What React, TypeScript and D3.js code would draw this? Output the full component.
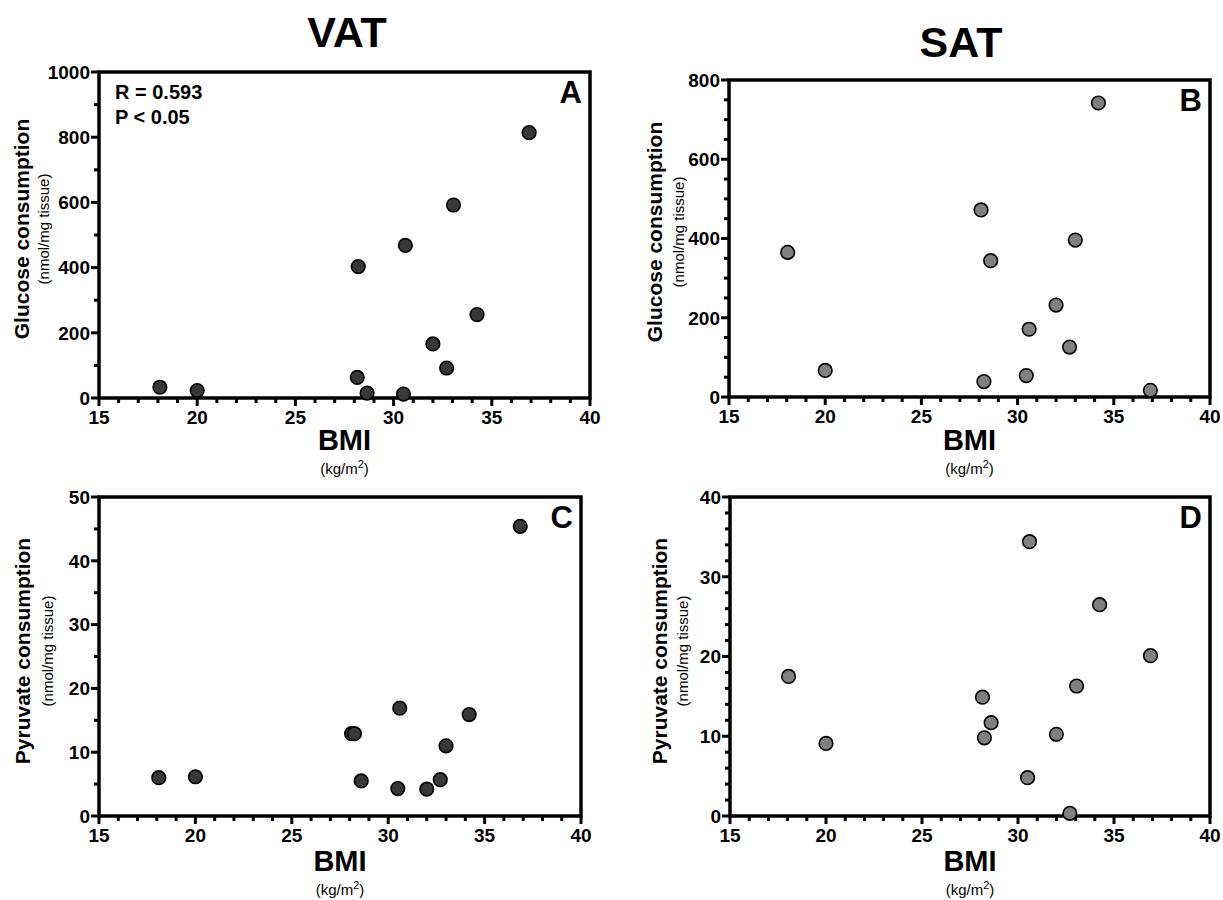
import React from "react";
import * as d3 from "d3";

// BMI (kg/m2) and consumption values
const vatGlucoseBmi = [18.1, 20.0, 28.2, 28.15, 28.65, 30.6, 30.5, 32.0, 32.7, 33.05, 34.25, 36.9];
const vatGlucose = [33, 23, 403, 63, 15, 468, 12, 166, 92, 592, 256, 814];

const satGlucoseBmi = [18.05, 20.0, 28.1, 28.25, 28.6, 30.45, 30.6, 32.0, 32.7, 33.0, 34.2, 36.9];
const satGlucose = [365, 67, 472, 39, 344, 54, 171, 232, 126, 396, 742, 17];

const vatPyruvateBmi = [18.1, 20.0, 28.1, 28.25, 28.6, 30.5, 30.6, 32.0, 32.7, 33.0, 34.2, 36.85];
const vatPyruvate = [6.0, 6.15, 12.9, 12.9, 5.5, 4.3, 16.9, 4.2, 5.7, 11.0, 15.9, 45.4];

const satPyruvateBmi = [18.05, 20.0, 28.15, 28.25, 28.6, 30.5, 30.6, 32.0, 32.7, 33.05, 34.25, 36.9];
const satPyruvate = [17.5, 9.1, 14.9, 9.8, 11.7, 4.8, 34.4, 10.25, 0.33, 16.3, 26.5, 20.1];

const xTicks = [15, 20, 25, 30, 35, 40];
const columnTitles = ["VAT", "SAT"];

const FONT = "'Liberation Sans', Arial, Helvetica, sans-serif";

type PanelProps = {
  box: { left: number; right: number; top: number; bottom: number };
  xs: number[];
  ys: number[];
  yMax: number;
  yMajor: number;
  yMinor: number;
  letter: string;
  fill: string;
  title: string;
  labelX: number;
  subX: number;
  labelY: number;
  bmiY: number;
  kgY: number;
  stats?: string[];
};

const Panel = (p: PanelProps) => {
  const { box } = p;
  const x = d3.scaleLinear().domain([15, 40]).range([box.left, box.right]);
  const y = d3.scaleLinear().domain([0, p.yMax]).range([box.bottom, box.top]);
  const xMinor = d3.range(15, 40.001, 1).filter((v) => !xTicks.includes(v));
  const yMajorTicks = d3.range(0, p.yMax + 0.001, p.yMajor);
  const yMinorTicks = d3
    .range(0, p.yMax + 0.001, p.yMinor)
    .filter((v) => Math.abs(v / p.yMajor - Math.round(v / p.yMajor)) > 1e-6);
  const cx = (box.left + box.right) / 2;

  return (
    <g fontFamily={FONT}>
      {/* ticks */}
      {xTicks.map((t) => (
        <line key={"xM" + t} x1={x(t)} x2={x(t)} y1={box.bottom} y2={box.bottom + 8} stroke="#000" strokeWidth={3} />
      ))}
      {xMinor.map((t) => (
        <line key={"xm" + t} x1={x(t)} x2={x(t)} y1={box.bottom} y2={box.bottom + 5} stroke="#000" strokeWidth={3} />
      ))}
      {yMajorTicks.map((t) => (
        <line key={"yM" + t} x1={box.left - 8} x2={box.left} y1={y(t)} y2={y(t)} stroke="#000" strokeWidth={3} />
      ))}
      {yMinorTicks.map((t) => (
        <line key={"ym" + t} x1={box.left - 5} x2={box.left} y1={y(t)} y2={y(t)} stroke="#000" strokeWidth={3} />
      ))}
      <rect
        x={box.left}
        y={box.top}
        width={box.right - box.left}
        height={box.bottom - box.top}
        fill="none"
        stroke="#000"
        strokeWidth={3.5}
      />
      {/* tick labels */}
      {xTicks.map((t) => (
        <text key={"xl" + t} x={x(t)} y={box.bottom + 26} textAnchor="middle" fontSize={19} fontWeight="bold">
          {t}
        </text>
      ))}
      {yMajorTicks.map((t) => (
        <text
          key={"yl" + t}
          x={box.left - 9}
          y={y(t)}
          dy="0.36em"
          textAnchor="end"
          fontSize={19}
          fontWeight="bold"
        >
          {t}
        </text>
      ))}
      {/* points */}
      {p.xs.map((v, i) => (
        <circle key={"pt" + i} cx={x(v)} cy={y(p.ys[i])} r={6.8} fill={p.fill} stroke="#000" strokeWidth={1.6} />
      ))}
      {/* letter */}
      <text x={box.right - 8} y={box.top + 31} textAnchor="end" fontSize={31} fontWeight="bold">
        {p.letter}
      </text>
      {p.stats &&
        p.stats.map((s, i) => (
          <text key={"st" + i} x={box.left + 16} y={box.top + 27 + i * 25} fontSize={20} fontWeight="bold">
            {s}
          </text>
        ))}
      {/* y axis title */}
      <text
        transform={`translate(${p.labelX},${p.labelY}) rotate(-90)`}
        textAnchor="middle"
        dy="0.35em"
        fontSize={21}
        fontWeight="bold"
      >
        {p.title}
      </text>
      <text
        transform={`translate(${p.subX},${p.labelY}) rotate(-90)`}
        textAnchor="middle"
        dy="0.35em"
        fontSize={15}
      >
        (nmol/mg tissue)
      </text>
      {/* x axis title */}
      <text x={cx} y={p.bmiY} textAnchor="middle" fontSize={29} fontWeight="bold">
        BMI
      </text>
      <text x={cx} y={p.kgY} textAnchor="middle" fontSize={15}>
        (kg/m
        <tspan fontSize={11} dy={-6}>
          2
        </tspan>
        <tspan dy={6}>)</tspan>
      </text>
    </g>
  );
};

export default function App() {
  return (
    <svg
      width={1223}
      height={900}
      style={{ position: "absolute", left: 0, top: 0, background: "#fff" }}
    >
      <text x={347} y={47} textAnchor="middle" fontFamily={FONT} fontSize={43} fontWeight="bold">
        {columnTitles[0]}
      </text>
      <text x={961} y={57} textAnchor="middle" fontFamily={FONT} fontSize={43} fontWeight="bold">
        {columnTitles[1]}
      </text>
      <Panel
        box={{ left: 99, right: 590, top: 72, bottom: 398 }}
        xs={vatGlucoseBmi}
        ys={vatGlucose}
        yMax={1000}
        yMajor={200}
        yMinor={100}
        letter="A"
        fill="#383838"
        title="Glucose consumption"
        labelX={22}
        subX={44}
        labelY={229}
        bmiY={450}
        kgY={474}
        stats={["R = 0.593", "P < 0.05"]}
      />
      <Panel
        box={{ left: 729, right: 1210, top: 80, bottom: 397 }}
        xs={satGlucoseBmi}
        ys={satGlucose}
        yMax={800}
        yMajor={200}
        yMinor={50}
        letter="B"
        fill="#808080"
        title="Glucose consumption"
        labelX={655}
        subX={679}
        labelY={232}
        bmiY={450}
        kgY={474}
      />
      <Panel
        box={{ left: 99, right: 581, top: 497, bottom: 816 }}
        xs={vatPyruvateBmi}
        ys={vatPyruvate}
        yMax={50}
        yMajor={10}
        yMinor={5}
        letter="C"
        fill="#383838"
        title="Pyruvate consumption"
        labelX={23}
        subX={48}
        labelY={651}
        bmiY={871}
        kgY={895}
      />
      <Panel
        box={{ left: 730, right: 1210, top: 497, bottom: 816 }}
        xs={satPyruvateBmi}
        ys={satPyruvate}
        yMax={40}
        yMajor={10}
        yMinor={2}
        letter="D"
        fill="#808080"
        title="Pyruvate consumption"
        labelX={660}
        subX={683}
        labelY={651}
        bmiY={871}
        kgY={895}
      />
    </svg>
  );
}
